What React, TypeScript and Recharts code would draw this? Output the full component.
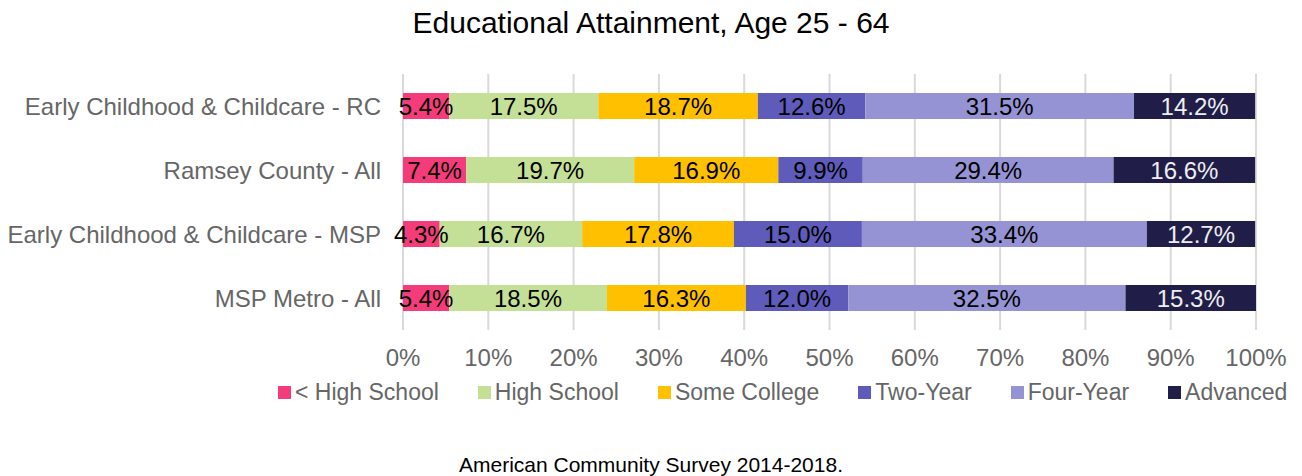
import React from 'react';
import { BarChart, Bar, XAxis, YAxis, CartesianGrid, LabelList } from 'recharts';

const categories = [
  'Early Childhood & Childcare - RC',
  'Ramsey County - All',
  'Early Childhood & Childcare - MSP',
  'MSP Metro - All',
];

const lessHighSchool = [5.4, 7.4, 4.3, 5.4];
const highSchool = [17.5, 19.7, 16.7, 18.5];
const someCollege = [18.7, 16.9, 17.8, 16.3];
const twoYear = [12.6, 9.9, 15.0, 12.0];
const fourYear = [31.5, 29.4, 33.4, 32.5];
const advanced = [14.2, 16.6, 12.7, 15.3];

const xTicks = [0, 10, 20, 30, 40, 50, 60, 70, 80, 90, 100];

const seriesList = [
  { key: 'lessHS', name: '< High School', values: lessHighSchool, color: '#F53C7B', labelColor: '#000' },
  { key: 'hs', name: 'High School', values: highSchool, color: '#C4DF96', labelColor: '#000' },
  { key: 'some', name: 'Some College', values: someCollege, color: '#FFC000', labelColor: '#000' },
  { key: 'two', name: 'Two-Year', values: twoYear, color: '#5F5BBB', labelColor: '#000' },
  { key: 'four', name: 'Four-Year', values: fourYear, color: '#9693D4', labelColor: '#000' },
  { key: 'adv', name: 'Advanced', values: advanced, color: '#201E48', labelColor: '#eeeeee' },
];

const data = categories.map((name, i) => {
  const row: Record<string, string | number> = { name };
  seriesList.forEach((s) => {
    row[s.key] = s.values[i];
  });
  return row;
});

const FONT = '"Liberation Sans", Arial, sans-serif';

export default function App() {
  return (
    <div style={{ position: 'absolute', left: 0, top: 0, width: 1302, height: 476, background: '#fff', fontFamily: FONT, overflow: 'hidden' }}>
      <div style={{ position: 'absolute', top: 6, left: 0, width: 1302, textAlign: 'center', fontSize: 30, color: '#000' }}>
        Educational Attainment, Age 25 - 64
      </div>

      <BarChart
        width={1302}
        height={476}
        data={data}
        layout="vertical"
        margin={{ top: 74, right: 46, bottom: 116, left: 0 }}
        barCategoryGap={0}
      >
        <CartesianGrid horizontal={false} stroke="#d9d9d9" strokeWidth={2} />
        <XAxis
          type="number"
          domain={[0, 100]}
          ticks={xTicks}
          tickFormatter={(v) => `${v}%`}
          axisLine={false}
          tickLine={false}
          tickSize={0}
          tickMargin={19}
          interval={0}
          height={30}
          tick={{ fill: '#666', fontSize: 24, fontFamily: FONT }}
        />
        <YAxis
          type="category"
          dataKey="name"
          width={403}
          axisLine={false}
          tickLine={false}
          tickSize={0}
          tickMargin={22}
          tick={{ fill: '#666', fontSize: 24, fontFamily: FONT }}
        />
        {seriesList.map((s) => (
          <Bar key={s.key} dataKey={s.key} name={s.name} stackId="a" fill={s.color} barSize={26} isAnimationActive={false}>
            <LabelList
              dataKey={s.key}
              position="center"
              formatter={(v: number) => `${v.toFixed(1)}%`}
              style={{ fill: s.labelColor, fontSize: 24, fontFamily: FONT }}
            />
          </Bar>
        ))}
      </BarChart>

      <div style={{ position: 'absolute', top: 379, left: 278, display: 'flex', alignItems: 'center', fontSize: 23, color: '#666', whiteSpace: 'nowrap' }}>
        {seriesList.map((s) => (
          <div key={s.key} style={{ display: 'flex', alignItems: 'center', marginRight: 39 }}>
            <span style={{ display: 'inline-block', width: 13, height: 13, background: s.color, marginRight: 4 }} />
            <span>{s.name}</span>
          </div>
        ))}
      </div>

      <div style={{ position: 'absolute', top: 453, left: 0, width: 1302, textAlign: 'center', fontSize: 21, color: '#000' }}>
        American Community Survey 2014-2018.
      </div>
    </div>
  );
}
